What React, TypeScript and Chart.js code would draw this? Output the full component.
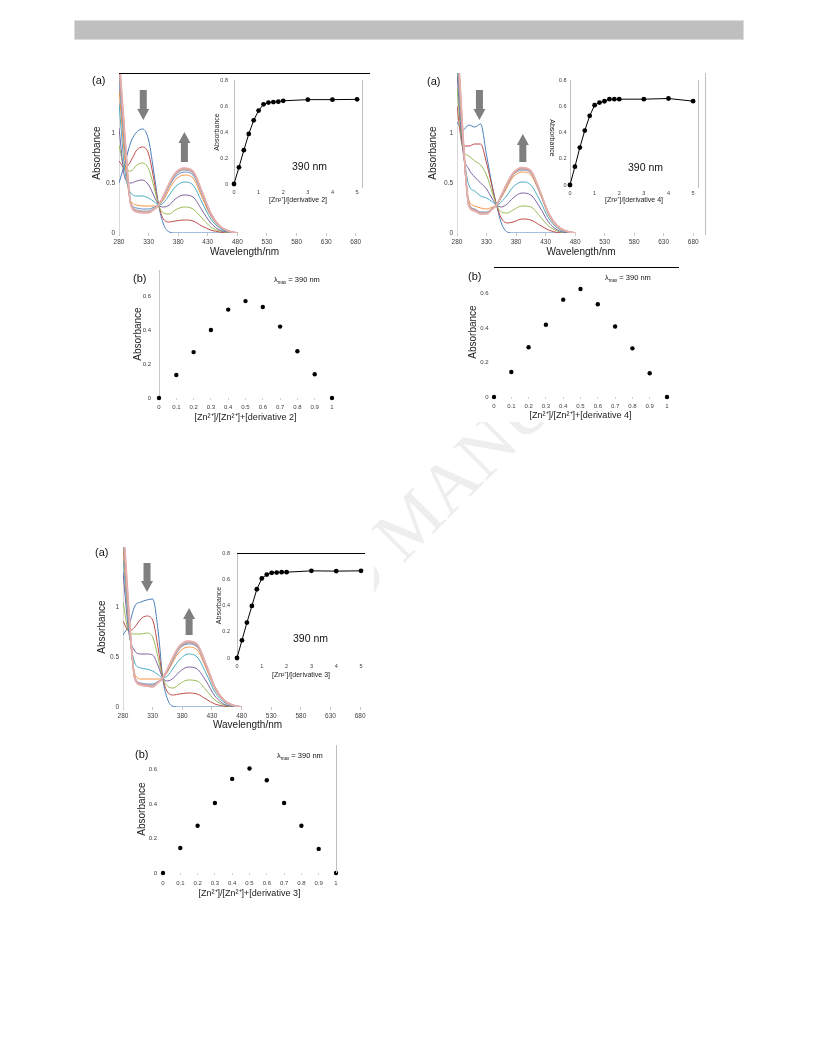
import React, { useEffect, useRef } from 'react';
import { Chart, registerables } from 'chart.js';

Chart.register(...registerables);

const FONT = '"Liberation Sans", Arial, Helvetica, sans-serif';
Chart.defaults.font.family = FONT;

// ---------------- data ----------------
const WAVELENGTHS = [280, 290, 300, 310, 320, 330, 340, 347, 355, 365, 375, 390, 405, 420, 435, 450, 465, 480];
const WAVELENGTH_TICKS = [280, 330, 380, 430, 480, 530, 580, 630, 680];
const ABSORBANCE_TICKS = [0, 0.5, 1];

const DERIV2_SPECTRA = [
  [0.50, 0.70, 0.91, 1.01, 1.04, 0.93, 0.56, 0.28, 0.09, 0.01, 0, 0, 0, 0, 0, 0, 0, 0],
  [0.72, 0.65, 0.72, 0.83, 0.86, 0.79, 0.50, 0.28, 0.14, 0.11, 0.12, 0.13, 0.12, 0.07, 0.03, 0.01, 0, 0],
  [0.88, 0.63, 0.62, 0.68, 0.70, 0.64, 0.44, 0.28, 0.20, 0.19, 0.23, 0.26, 0.24, 0.15, 0.06, 0.02, 0.005, 0],
  [1.05, 0.55, 0.50, 0.52, 0.53, 0.48, 0.36, 0.28, 0.26, 0.28, 0.34, 0.38, 0.36, 0.23, 0.10, 0.03, 0.01, 0],
  [1.30, 0.62, 0.40, 0.37, 0.37, 0.35, 0.31, 0.28, 0.30, 0.38, 0.46, 0.51, 0.48, 0.31, 0.14, 0.05, 0.01, 0],
  [1.45, 0.72, 0.32, 0.28, 0.27, 0.27, 0.27, 0.28, 0.33, 0.44, 0.53, 0.58, 0.55, 0.36, 0.17, 0.06, 0.015, 0],
  [1.55, 0.82, 0.30, 0.25, 0.24, 0.24, 0.26, 0.28, 0.35, 0.47, 0.56, 0.61, 0.58, 0.39, 0.18, 0.06, 0.015, 0],
  [1.62, 0.88, 0.29, 0.23, 0.22, 0.22, 0.25, 0.28, 0.36, 0.48, 0.58, 0.63, 0.60, 0.40, 0.19, 0.07, 0.02, 0],
  [1.70, 0.92, 0.29, 0.22, 0.21, 0.21, 0.24, 0.28, 0.36, 0.49, 0.59, 0.64, 0.61, 0.41, 0.19, 0.07, 0.02, 0],
  [1.75, 0.95, 0.28, 0.22, 0.21, 0.21, 0.24, 0.28, 0.37, 0.49, 0.59, 0.645, 0.615, 0.41, 0.20, 0.07, 0.02, 0],
  [1.80, 0.98, 0.28, 0.21, 0.20, 0.20, 0.24, 0.28, 0.37, 0.50, 0.60, 0.65, 0.62, 0.42, 0.20, 0.07, 0.02, 0],
];

const DERIV4_SPECTRA = [
  [1.11, 1.03, 1.08, 1.06, 1.09, 0.78, 0.46, 0.28, 0.10, 0.01, 0, 0, 0, 0, 0, 0, 0, 0],
  [1.27, 0.87, 0.87, 0.89, 0.89, 0.70, 0.45, 0.28, 0.15, 0.10, 0.11, 0.14, 0.13, 0.08, 0.03, 0.005, 0, 0],
  [1.45, 0.84, 0.77, 0.72, 0.68, 0.58, 0.40, 0.28, 0.21, 0.20, 0.23, 0.27, 0.26, 0.17, 0.07, 0.02, 0, 0],
  [1.60, 0.82, 0.64, 0.56, 0.50, 0.44, 0.34, 0.28, 0.26, 0.29, 0.35, 0.40, 0.38, 0.26, 0.11, 0.03, 0.005, 0],
  [1.70, 0.88, 0.48, 0.42, 0.37, 0.35, 0.31, 0.28, 0.31, 0.38, 0.46, 0.51, 0.48, 0.33, 0.15, 0.05, 0.01, 0],
  [1.80, 0.90, 0.33, 0.27, 0.25, 0.24, 0.26, 0.28, 0.35, 0.46, 0.56, 0.61, 0.58, 0.40, 0.18, 0.06, 0.015, 0],
  [1.85, 0.92, 0.30, 0.24, 0.21, 0.21, 0.25, 0.28, 0.36, 0.48, 0.58, 0.63, 0.60, 0.41, 0.19, 0.07, 0.02, 0],
  [1.90, 0.94, 0.29, 0.23, 0.20, 0.20, 0.24, 0.28, 0.37, 0.49, 0.59, 0.64, 0.61, 0.42, 0.19, 0.07, 0.02, 0],
  [1.95, 0.96, 0.28, 0.23, 0.20, 0.20, 0.24, 0.28, 0.37, 0.49, 0.59, 0.645, 0.615, 0.42, 0.20, 0.07, 0.02, 0],
  [2.00, 0.98, 0.27, 0.22, 0.19, 0.20, 0.24, 0.28, 0.37, 0.50, 0.60, 0.65, 0.62, 0.42, 0.20, 0.07, 0.02, 0],
  [2.05, 1.00, 0.27, 0.22, 0.19, 0.19, 0.24, 0.28, 0.38, 0.50, 0.60, 0.655, 0.625, 0.43, 0.20, 0.07, 0.02, 0],
];

const DERIV3_SPECTRA = [
  [0.72, 0.82, 1.01, 1.05, 1.07, 1.08, 0.72, 0.29, 0.08, 0.005, 0, 0, 0, 0, 0, 0, 0, 0],
  [0.86, 0.76, 0.80, 0.88, 0.91, 0.87, 0.56, 0.29, 0.15, 0.12, 0.13, 0.14, 0.13, 0.08, 0.03, 0.01, 0, 0],
  [1.05, 0.75, 0.73, 0.73, 0.74, 0.70, 0.47, 0.29, 0.21, 0.19, 0.23, 0.27, 0.26, 0.17, 0.07, 0.02, 0.005, 0],
  [1.35, 0.74, 0.56, 0.53, 0.53, 0.52, 0.40, 0.29, 0.26, 0.29, 0.35, 0.40, 0.38, 0.26, 0.11, 0.03, 0.005, 0],
  [1.50, 0.78, 0.44, 0.39, 0.38, 0.36, 0.32, 0.29, 0.31, 0.39, 0.47, 0.53, 0.50, 0.34, 0.15, 0.05, 0.01, 0],
  [1.60, 0.83, 0.33, 0.28, 0.28, 0.28, 0.28, 0.29, 0.35, 0.46, 0.55, 0.60, 0.57, 0.39, 0.18, 0.06, 0.015, 0],
  [1.70, 0.88, 0.30, 0.24, 0.23, 0.23, 0.26, 0.29, 0.36, 0.48, 0.58, 0.63, 0.60, 0.41, 0.19, 0.07, 0.02, 0],
  [1.75, 0.90, 0.29, 0.23, 0.22, 0.22, 0.25, 0.29, 0.37, 0.49, 0.59, 0.64, 0.61, 0.42, 0.19, 0.07, 0.02, 0],
  [1.80, 0.92, 0.29, 0.23, 0.22, 0.21, 0.25, 0.29, 0.37, 0.50, 0.60, 0.65, 0.62, 0.42, 0.20, 0.07, 0.02, 0],
  [1.85, 0.94, 0.28, 0.22, 0.21, 0.21, 0.25, 0.29, 0.38, 0.50, 0.60, 0.655, 0.625, 0.43, 0.20, 0.07, 0.02, 0],
  [1.90, 0.96, 0.28, 0.22, 0.21, 0.20, 0.25, 0.29, 0.38, 0.51, 0.61, 0.66, 0.63, 0.43, 0.20, 0.07, 0.02, 0],
];

const SPECTRUM_COLORS = ['#4A7EBB', '#BE4B48', '#98B954', '#7D60A0', '#46AAC5', '#F69240', '#5B8CC8', '#A6A6A6', '#D99694', '#C9A9A8', '#E6B0AE'];
const SPECTRUM_WIDTHS = [1, 1, 1, 1, 1, 1, 1, 1.2, 1.4, 1.4, 1.6];

const EQUIVALENTS = [0, 0.2, 0.4, 0.6, 0.8, 1, 1.2, 1.4, 1.6, 1.8, 2, 3, 4, 5];
const EQUIVALENT_TICKS = [0, 1, 2, 3, 4, 5];
const INSET_ABS_TICKS = [0, 0.2, 0.4, 0.6, 0.8];
const DERIV2_TITRATION = [0, 0.128, 0.26, 0.385, 0.49, 0.565, 0.613, 0.626, 0.63, 0.633, 0.64, 0.649, 0.649, 0.651];
const DERIV4_TITRATION = [0, 0.14, 0.285, 0.415, 0.527, 0.608, 0.628, 0.638, 0.654, 0.654, 0.654, 0.654, 0.659, 0.639];
const DERIV3_TITRATION = [0, 0.135, 0.27, 0.397, 0.524, 0.606, 0.636, 0.649, 0.651, 0.654, 0.654, 0.664, 0.662, 0.664];

const MOLE_FRACTION = [0, 0.1, 0.2, 0.3, 0.4, 0.5, 0.6, 0.7, 0.8, 0.9, 1];
const JOB_ABS_TICKS = [0, 0.2, 0.4, 0.6];
const DERIV2_JOB = [0, 0.135, 0.27, 0.40, 0.52, 0.57, 0.535, 0.42, 0.275, 0.14, 0];
const DERIV4_JOB = [0, 0.145, 0.289, 0.42, 0.566, 0.628, 0.539, 0.41, 0.283, 0.138, 0];
const DERIV3_JOB = [0, 0.145, 0.275, 0.407, 0.547, 0.607, 0.539, 0.407, 0.275, 0.14, 0];

// arrows in data units (wavelength, absorbance)
const ARROWS_D2 = [{ x: 321, from: 1.43, to: 1.13 }, { x: 390.5, from: 0.71, to: 1.01 }];
const ARROWS_D4 = [{ x: 318, from: 1.43, to: 1.13 }, { x: 391.5, from: 0.71, to: 0.99 }];
const ARROWS_D3 = [{ x: 320.5, from: 1.44, to: 1.15 }, { x: 391.5, from: 0.72, to: 0.99 }];

// ---------------- layout ----------------
type Pad = { l: number; t: number; r: number; b: number };
const PAD_MAIN: Pad = { l: 40, t: 14, r: 12, b: 30 };
const PAD_INSET: Pad = { l: 25, t: 14, r: 10, b: 24 };
const PAD_JOB: Pad = { l: 30, t: 14, r: 12, b: 30 };

const MAIN_D2 = { plot: [119, 73, 370, 233], pad: PAD_MAIN, xMax: 704, yTitlePad: 12, xTitlePad: 5 };
const MAIN_D4 = { plot: [457, 73, 705, 233], pad: PAD_MAIN, xMax: 700, yTitlePad: 10, xTitlePad: 5 };
const MAIN_D3 = { plot: [123, 547, 372, 707], pad: PAD_MAIN, xMax: 700, yTitlePad: 13, xTitlePad: 6 };

const INSET_D2 = { plot: [234, 80, 362, 184], pad: PAD_INSET, xMax: 5.2, yTitle: true, yTitlePad: 3.8, xTitlePad: 3.8, yTickPad: 6 };
const INSET_D4 = { plot: [570, 80, 698, 185], pad: PAD_INSET, xMax: 5.2, yTitle: false, yTitlePad: 3, xTitlePad: 4.8, yTickPad: 3.5 };
const INSET_D3 = { plot: [237, 553, 365, 658], pad: PAD_INSET, xMax: 5.16, yTitle: true, yTitlePad: 2.8, xTitlePad: 2.8, yTickPad: 7 };

const JOB_D2 = { plot: [159, 270, 332, 398], pad: PAD_JOB, yMax: 0.753, yTitlePad: 3, xTitlePad: 4.6, yTickPad: 8, xTickPad: 3.4, yBorder: true };
const JOB_D4 = { plot: [494, 267, 667, 397], pad: PAD_JOB, yMax: 0.756, yTitlePad: 3, xTitlePad: 5.6, yTickPad: 5.5, xTickPad: 3.4, yBorder: false };
const JOB_D3 = { plot: [163, 745, 336, 873], pad: PAD_JOB, yMax: 0.744, yTitlePad: 3, xTitlePad: 3.6, yTickPad: 6, xTickPad: 4.4, yBorder: false };

// opaque figure panels (they hide the watermark, as the pasted figures do)
const PANELS = [
  [86, 62, 374, 259], [100, 264, 350, 427],
  [421, 62, 735, 262], [462, 262, 692, 422],
  [88, 538, 374, 734], [95, 734, 345, 903],
];

function frame(L: any) {
  const [l, t, r, b] = L.plot;
  return { left: l - L.pad.l, top: t - L.pad.t, width: r - l + L.pad.l + L.pad.r, height: b - t + L.pad.t + L.pad.b };
}

// ---------------- plugin ----------------
type Decor = {
  topLine?: string; topLineExtend?: number;
  rightLine?: string; rightLineExtend?: number;
  arrows?: { x: number; from: number; to: number }[];
};

function makeDecor(cfg: Decor) {
  return {
    id: 'decor',
    afterDatasetsDraw(chart: any) {
      const { ctx, chartArea: a, scales } = chart;
      ctx.save();
      ctx.lineWidth = 1;
      if (cfg.topLine) {
        const y = Math.round(a.top) + 0.5;
        ctx.strokeStyle = cfg.topLine;
        ctx.beginPath();
        ctx.moveTo(a.left, y);
        ctx.lineTo(a.right + (cfg.topLineExtend || 0), y);
        ctx.stroke();
      }
      if (cfg.rightLine) {
        const x = Math.round(a.right) + 0.5;
        ctx.strokeStyle = cfg.rightLine;
        ctx.beginPath();
        ctx.moveTo(x, a.top);
        ctx.lineTo(x, a.bottom + (cfg.rightLineExtend || 0));
        ctx.stroke();
      }
      (cfg.arrows || []).forEach((ar) => {
        const px = scales.x.getPixelForValue(ar.x);
        const y0 = scales.y.getPixelForValue(ar.from);
        const y1 = scales.y.getPixelForValue(ar.to);
        const dir = y1 > y0 ? 1 : -1;
        const sw = 7, hw = 12, hl = 11;
        const hb = y1 - dir * hl;
        ctx.fillStyle = '#7f7f7f';
        ctx.beginPath();
        ctx.moveTo(px - sw / 2, y0);
        ctx.lineTo(px + sw / 2, y0);
        ctx.lineTo(px + sw / 2, hb);
        ctx.lineTo(px + hw / 2, hb);
        ctx.lineTo(px, y1);
        ctx.lineTo(px - hw / 2, hb);
        ctx.lineTo(px - sw / 2, hb);
        ctx.closePath();
        ctx.fill();
      });
      ctx.restore();
    },
  };
}

const fixedTicks = (values: number[]) => (axis: any) => {
  axis.ticks = values.map((v) => ({ value: v }));
};

// ---------------- configs ----------------
function spectrumConfig(spectra: number[][], L: any, decor: Decor) {
  return {
    type: 'line',
    data: {
      datasets: spectra.map((s, i) => ({
        data: WAVELENGTHS.map((w, j) => ({ x: w, y: s[j] })),
        borderColor: SPECTRUM_COLORS[i],
        borderWidth: SPECTRUM_WIDTHS[i],
        pointRadius: 0,
        cubicInterpolationMode: 'monotone',
        fill: false,
        order: spectra.length - i,
      })),
    },
    options: {
      responsive: false,
      animation: false,
      events: [],
      layout: { padding: { left: 0, top: L.pad.t, right: L.pad.r, bottom: 0 } },
      plugins: { legend: { display: false }, tooltip: { enabled: false } },
      scales: {
        x: {
          type: 'linear', min: 280, max: L.xMax,
          afterBuildTicks: fixedTicks(WAVELENGTH_TICKS),
          afterFit: (s: any) => { s.height = L.pad.b; },
          ticks: { autoSkip: false, maxRotation: 0, minRotation: 0, padding: 2.1, font: { size: 6.5 }, color: '#404040', callback: (v: any) => String(v) },
          grid: { display: true, drawOnChartArea: false, drawTicks: true, tickLength: 3, color: '#c8c8c8' },
          border: { display: false },
          title: { display: true, text: 'Wavelength/nm', font: { size: 10 }, color: '#1a1a1a', padding: { top: 0, bottom: L.xTitlePad } },
        },
        y: {
          type: 'linear', min: 0, max: 1.6,
          afterBuildTicks: fixedTicks(ABSORBANCE_TICKS),
          afterFit: (s: any) => { s.width = L.pad.l; },
          ticks: { padding: 4, font: { size: 6.5 }, color: '#404040', callback: (v: any) => String(v) },
          grid: { display: false, drawTicks: false },
          border: { display: true, color: '#d9d9d9' },
          title: { display: true, text: 'Absorbance', font: { size: 10 }, color: '#1a1a1a', padding: { top: L.yTitlePad, bottom: 0 } },
        },
      },
    },
    plugins: [makeDecor(decor)],
  };
}

function titrationConfig(values: number[], L: any, xTitle: string, decor: Decor) {
  return {
    type: 'line',
    data: {
      datasets: [{
        data: EQUIVALENTS.map((e, i) => ({ x: e, y: values[i] })),
        borderColor: '#000', borderWidth: 1, tension: 0,
        pointRadius: 2.4, pointBackgroundColor: '#000', pointBorderColor: '#000', pointBorderWidth: 0,
        clip: false,
      }],
    },
    options: {
      responsive: false,
      animation: false,
      events: [],
      layout: { padding: { left: 0, top: L.pad.t, right: L.pad.r, bottom: 0 } },
      plugins: { legend: { display: false }, tooltip: { enabled: false } },
      scales: {
        x: {
          type: 'linear', min: 0, max: L.xMax,
          afterBuildTicks: fixedTicks(EQUIVALENT_TICKS),
          afterFit: (s: any) => { s.height = L.pad.b; },
          ticks: { autoSkip: false, maxRotation: 0, padding: 5.6, font: { size: 5.5 }, color: '#404040', callback: (v: any) => String(v) },
          grid: { display: false, drawTicks: false },
          border: { display: false },
          title: { display: true, text: xTitle, font: { size: 7 }, color: '#1a1a1a', padding: { top: 0, bottom: L.xTitlePad } },
        },
        y: {
          type: 'linear', min: 0, max: 0.8,
          afterBuildTicks: fixedTicks(INSET_ABS_TICKS),
          afterFit: (s: any) => { s.width = L.pad.l; },
          ticks: { padding: L.yTickPad, font: { size: 5.5 }, color: '#404040', callback: (v: any) => String(v) },
          grid: { display: false, drawTicks: false },
          border: { display: true, color: '#bfbfbf' },
          title: { display: L.yTitle, text: 'Absorbance', font: { size: 7 }, color: '#1a1a1a', padding: { top: L.yTitlePad, bottom: 0 } },
        },
      },
    },
    plugins: [makeDecor(decor)],
  };
}

function jobConfig(values: number[], L: any, xTitle: string, decor: Decor) {
  return {
    type: 'line',
    data: {
      datasets: [{
        data: MOLE_FRACTION.map((f, i) => ({ x: f, y: values[i] })),
        showLine: false,
        pointRadius: 2.2, pointBackgroundColor: '#000', pointBorderColor: '#000', pointBorderWidth: 0,
        clip: false,
      }],
    },
    options: {
      responsive: false,
      animation: false,
      events: [],
      layout: { padding: { left: 0, top: L.pad.t, right: L.pad.r, bottom: 0 } },
      plugins: { legend: { display: false }, tooltip: { enabled: false } },
      scales: {
        x: {
          type: 'linear', min: 0, max: 1,
          afterBuildTicks: fixedTicks(MOLE_FRACTION),
          afterFit: (s: any) => { s.height = L.pad.b; },
          ticks: { autoSkip: false, maxRotation: 0, padding: L.xTickPad, font: { size: 6 }, color: '#404040', callback: (v: any) => String(v) },
          grid: { display: true, drawOnChartArea: false, drawTicks: true, tickLength: 2, color: '#d0d0d0' },
          border: { display: false },
          title: { display: true, text: xTitle, font: { size: 9 }, color: '#1a1a1a', padding: { top: 0, bottom: L.xTitlePad } },
        },
        y: {
          type: 'linear', min: 0, max: L.yMax,
          afterBuildTicks: fixedTicks(JOB_ABS_TICKS),
          afterFit: (s: any) => { s.width = L.pad.l; },
          ticks: { padding: L.yTickPad, font: { size: 6 }, color: '#404040', callback: (v: any) => String(v) },
          grid: { display: false, drawTicks: false },
          border: { display: L.yBorder, color: '#c8c8c8' },
          title: { display: true, text: 'Absorbance', font: { size: 10 }, color: '#1a1a1a', padding: { top: L.yTitlePad, bottom: 0 } },
        },
      },
    },
    plugins: [makeDecor(decor)],
  };
}

// ---------------- components ----------------
function ChartCanvas({ layout, build }: { layout: any; build: () => any }) {
  const ref = useRef<HTMLCanvasElement | null>(null);
  const box = frame(layout);
  useEffect(() => {
    const chart = new Chart(ref.current as HTMLCanvasElement, build() as any);
    return () => chart.destroy();
  }, []);
  return (
    <canvas
      ref={ref}
      width={box.width}
      height={box.height}
      style={{ position: 'absolute', left: box.left, top: box.top, width: box.width, height: box.height }}
    />
  );
}

function Label({ x, y, size, children }: { x: number; y: number; size: number; children: any }) {
  return (
    <div style={{ position: 'absolute', left: x, top: y - size * 0.6, fontSize: size, lineHeight: `${size * 1.2}px`, fontFamily: FONT, color: '#111', whiteSpace: 'nowrap' }}>
      {children}
    </div>
  );
}

function LambdaMax() {
  return (
    <span>
      λ<sub style={{ fontSize: '0.6em', verticalAlign: '-0.35em', lineHeight: 0 }}>max</sub> = 390 nm
    </span>
  );
}

export default function App() {
  return (
    <div style={{ position: 'absolute', left: 0, top: 0, width: 816, height: 1056, overflow: 'hidden', background: '#fff' }}>
      <div
        style={{
          position: 'absolute', left: 412, top: 521, transform: 'translate(-50%, -50%) rotate(-45deg)',
          fontFamily: '"Liberation Serif", "Times New Roman", serif', fontSize: 72, lineHeight: 1,
          color: '#eeeeee', whiteSpace: 'nowrap',
        }}
      >
        ACCEPTED MANUSCRIPT
      </div>
      {PANELS.map(([l, t, r, b], i) => (
        <div key={i} style={{ position: 'absolute', left: l, top: t, width: r - l, height: b - t, background: '#fff' }} />
      ))}
      <div style={{ position: 'absolute', left: 74, top: 20, width: 668, height: 18, background: '#bfbfbf', border: '1px solid #dcdcdc' }} />

      <ChartCanvas layout={MAIN_D2} build={() => spectrumConfig(DERIV2_SPECTRA, MAIN_D2, { topLine: '#000', arrows: ARROWS_D2 })} />
      <ChartCanvas layout={INSET_D2} build={() => titrationConfig(DERIV2_TITRATION, INSET_D2, '[Zn²⁺]/[derivative 2]', { rightLine: '#bfbfbf', rightLineExtend: 4 })} />
      <ChartCanvas layout={JOB_D2} build={() => jobConfig(DERIV2_JOB, JOB_D2, '[Zn²⁺]/[Zn²⁺]+[derivative 2]', {})} />

      <ChartCanvas layout={MAIN_D4} build={() => spectrumConfig(DERIV4_SPECTRA, MAIN_D4, { rightLine: '#bfbfbf', rightLineExtend: 2, arrows: ARROWS_D4 })} />
      <ChartCanvas layout={INSET_D4} build={() => titrationConfig(DERIV4_TITRATION, INSET_D4, '[Zn²⁺]/[derivative 4]', { rightLine: '#bfbfbf', rightLineExtend: 3 })} />
      <ChartCanvas layout={JOB_D4} build={() => jobConfig(DERIV4_JOB, JOB_D4, '[Zn²⁺]/[Zn²⁺]+[derivative 4]', { topLine: '#000', topLineExtend: 13 })} />

      <ChartCanvas layout={MAIN_D3} build={() => spectrumConfig(DERIV3_SPECTRA, MAIN_D3, { arrows: ARROWS_D3 })} />
      <ChartCanvas layout={INSET_D3} build={() => titrationConfig(DERIV3_TITRATION, INSET_D3, '[Zn²⁺]/[derivative 3]', { topLine: '#000' })} />
      <ChartCanvas layout={JOB_D3} build={() => jobConfig(DERIV3_JOB, JOB_D3, '[Zn²⁺]/[Zn²⁺]+[derivative 3]', { rightLine: '#bfbfbf' })} />

      <Label x={92} y={81} size={11}>(a)</Label>
      <Label x={292} y={166} size={10.5}>390 nm</Label>
      <Label x={133} y={279} size={11}>(b)</Label>
      <Label x={274} y={279} size={7.5}><LambdaMax /></Label>

      <Label x={427} y={82} size={11}>(a)</Label>
      <Label x={628} y={167} size={10.5}>390 nm</Label>
      <div
        style={{
          position: 'absolute', left: 522, top: 134, width: 60, height: 8, lineHeight: '8px', textAlign: 'center',
          fontSize: 7, fontFamily: FONT, color: '#1a1a1a', transform: 'rotate(90deg)', whiteSpace: 'nowrap',
        }}
      >
        Absorbance
      </div>
      <Label x={468} y={277} size={11}>(b)</Label>
      <Label x={605} y={277} size={7.5}><LambdaMax /></Label>

      <Label x={95} y={553} size={11}>(a)</Label>
      <Label x={293} y={638} size={10.5}>390 nm</Label>
      <Label x={135} y={755} size={11}>(b)</Label>
      <Label x={277} y={755} size={7.5}><LambdaMax /></Label>
    </div>
  );
}
